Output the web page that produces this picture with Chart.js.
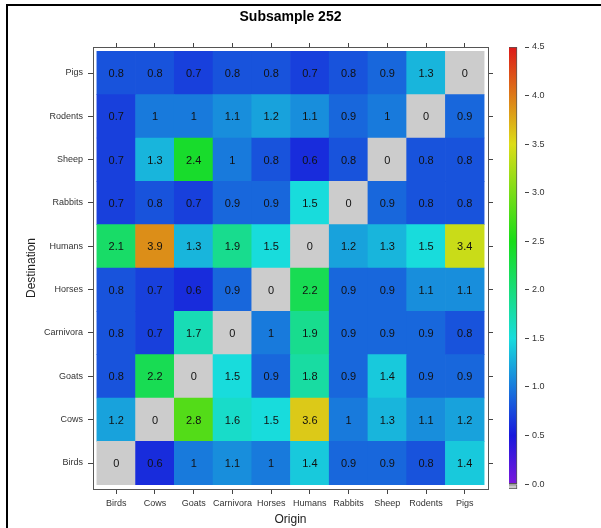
<!DOCTYPE html>
<html>
<head>
<meta charset="utf-8">
<script src="https://cdn.jsdelivr.net/npm/chart.js@4"></script>
<style>
  html, body { margin: 0; padding: 0; background: #fff; }
  #wrap { position: relative; width: 601px; height: 528px; overflow: hidden; }
  #frame { position: absolute; left: 6px; top: 4px; width: 600px; height: 530px;
           border-left: 2px solid #000; border-top: 2px solid #000; }
  #heat { position: absolute; left: 0; top: 0; }
  #scale { position: absolute; left: 500px; top: 0; }
</style>
</head>
<body>
<div id="wrap">
  <div id="frame"></div>
  <canvas id="heat" width="601" height="528"></canvas>
  <canvas id="scale" width="101" height="528"></canvas>
</div>
<script>
/* ---- dados: origem (colunas) x destino (linhas, de baixo p/ cima) ---- */
const origins = ['Birds', 'Cows', 'Goats', 'Carnivora', 'Horses', 'Humans', 'Rabbits', 'Sheep', 'Rodents', 'Pigs'];
const destinations = ['Birds', 'Cows', 'Goats', 'Carnivora', 'Horses', 'Humans', 'Rabbits', 'Sheep', 'Rodents', 'Pigs'];

const toBirds     = [0,   0.6, 1,   1.1, 1,   1.4, 0.9, 0.9, 0.8, 1.4];
const toCows      = [1.2, 0,   2.8, 1.6, 1.5, 3.6, 1,   1.3, 1.1, 1.2];
const toGoats     = [0.8, 2.2, 0,   1.5, 0.9, 1.8, 0.9, 1.4, 0.9, 0.9];
const toCarnivora = [0.8, 0.7, 1.7, 0,   1,   1.9, 0.9, 0.9, 0.9, 0.8];
const toHorses    = [0.8, 0.7, 0.6, 0.9, 0,   2.2, 0.9, 0.9, 1.1, 1.1];
const toHumans    = [2.1, 3.9, 1.3, 1.9, 1.5, 0,   1.2, 1.3, 1.5, 3.4];
const toRabbits   = [0.7, 0.8, 0.7, 0.9, 0.9, 1.5, 0,   0.9, 0.8, 0.8];
const toSheep     = [0.7, 1.3, 2.4, 1,   0.8, 0.6, 0.8, 0,   0.8, 0.8];
const toRodents   = [0.7, 1,   1,   1.1, 1.2, 1.1, 0.9, 1,   0,   0.9];
const toPigs      = [0.8, 0.8, 0.7, 0.8, 0.8, 0.7, 0.8, 0.9, 1.3, 0];

const rows = [toBirds, toCows, toGoats, toCarnivora, toHorses, toHumans, toRabbits, toSheep, toRodents, toPigs];

const scaleTicks = [0, 0.5, 1, 1.5, 2, 2.5, 3, 3.5, 4, 4.5];
const scaleMax = 4.5;

/* ---- cores ---- */
function rampColor(v) {
  return 'hsl(' + (270 - 60 * v) + ', 80%, 48%)';
}
function heatColor(v) {
  return v === 0 ? '#cccccc' : rampColor(v);
}

const FONT = "'Liberation Sans', Arial, sans-serif";
const tickFont = { family: FONT, size: 9 };

function centerTicks(scale) {
  scale.ticks = origins.map((_, i) => ({ value: i + 0.5 }));
}

// texto dentro das células
const cellLabels = {
  id: 'cellLabels',
  afterDatasetsDraw(chart) {
    const ctx = chart.ctx;
    ctx.save();
    ctx.font = '11px ' + FONT;
    ctx.fillStyle = '#111';
    ctx.textAlign = 'center';
    ctx.textBaseline = 'middle';
    chart.data.datasets.forEach((ds, di) => {
      chart.getDatasetMeta(di).data.forEach((el, i) => {
        const p = el.getProps(['x', 'y', 'base'], true);
        ctx.fillText(String(ds.data[i].v), p.x, (p.y + p.base) / 2 + 1);
      });
    });
    ctx.restore();
  }
};

// títulos
const titles = {
  id: 'titles',
  afterDraw(chart) {
    const ctx = chart.ctx;
    const a = chart.chartArea;
    const cx = (a.left + a.right) / 2;
    ctx.save();
    ctx.fillStyle = '#000';
    ctx.textAlign = 'center';
    ctx.textBaseline = 'middle';
    ctx.font = 'bold 14px ' + FONT;
    ctx.fillText('Subsample 252', cx, 17);
    ctx.fillStyle = '#222';
    ctx.font = '12px ' + FONT;
    ctx.fillText('Origin', cx, 520);
    ctx.translate(32, (a.top + a.bottom) / 2);
    ctx.rotate(-Math.PI / 2);
    ctx.fillText('Destination', 0, 0);
    ctx.restore();
  }
};

const datasets = rows.map((vals, r) => ({
  label: destinations[r],
  data: vals.map((v, c) => ({ x: c + 0.5, y: [r, r + 1], v: v })),
  backgroundColor: vals.map(heatColor),
  borderWidth: 0,
  grouped: false,
  barPercentage: 1,
  categoryPercentage: 1
}));

const gridOpts = { drawOnChartArea: false, drawTicks: true, tickLength: 5, color: '#444', offset: false };
const borderOpts = { display: true, color: '#555', width: 1 };

new Chart(document.getElementById('heat'), {
  type: 'bar',
  data: { datasets: datasets },
  options: {
    responsive: false,
    animation: false,
    layout: { padding: { left: 0, right: 108, top: 43, bottom: 0 } },
    plugins: { legend: { display: false }, tooltip: { enabled: false } },
    scales: {
      x: {
        type: 'linear', position: 'bottom', min: -0.1, max: 10.1, offset: false,
        afterBuildTicks: centerTicks,
        afterFit: s => { s.height = 39; },
        grid: gridOpts, border: borderOpts,
        ticks: { font: tickFont, color: '#333', padding: 4, maxRotation: 0, autoSkip: false,
                 callback: v => origins[Math.floor(v)] }
      },
      x2: {
        type: 'linear', position: 'top', min: -0.1, max: 10.1, offset: false,
        afterBuildTicks: centerTicks,
        afterFit: s => { s.height = 4; },
        grid: Object.assign({}, gridOpts, { tickLength: 4 }), border: borderOpts,
        ticks: { display: false }
      },
      y: {
        type: 'linear', position: 'left', min: -0.1, max: 10.1,
        afterBuildTicks: centerTicks,
        afterFit: s => { s.width = 93; },
        grid: gridOpts, border: borderOpts,
        ticks: { font: tickFont, color: '#333', padding: 5, autoSkip: false,
                 callback: v => destinations[Math.floor(v)] }
      },
      y2: {
        type: 'linear', position: 'right', min: -0.1, max: 10.1,
        afterBuildTicks: centerTicks,
        afterFit: s => { s.width = 5; },
        grid: gridOpts, border: borderOpts,
        ticks: { display: false }
      }
    }
  },
  plugins: [cellLabels, titles]
});

/* ---- barra de cores ---- */
new Chart(document.getElementById('scale'), {
  type: 'bar',
  data: {
    labels: [''],
    datasets: [
      { data: [[-0.05, 0]], backgroundColor: '#c8c8c8' },
      {
        data: [[0, scaleMax]],
        backgroundColor: ctx => {
          const chart = ctx.chart;
          if (!chart.chartArea) return '#888';
          const y = chart.scales.y;
          const g = chart.ctx.createLinearGradient(0, y.getPixelForValue(0), 0, y.getPixelForValue(scaleMax));
          for (let v = 0; v <= scaleMax + 1e-9; v += 0.25) {
            g.addColorStop(v / scaleMax, rampColor(v));
          }
          return g;
        }
      }
    ].map(d => Object.assign(d, {
      borderWidth: 1, borderColor: '#555', borderSkipped: false,
      grouped: false, barPercentage: 1, categoryPercentage: 1
    }))
  },
  options: {
    responsive: false,
    animation: false,
    layout: { padding: { left: 9, right: 0, top: 47, bottom: 39 } },
    plugins: { legend: { display: false }, tooltip: { enabled: false } },
    scales: {
      x: { display: false, offset: false },
      y: {
        position: 'right', min: -0.05, max: scaleMax,
        afterBuildTicks: s => { s.ticks = scaleTicks.map(v => ({ value: v })); },
        afterFit: s => { s.width = 76; },
        grid: { drawOnChartArea: false, drawTicks: true, tickLength: 4, color: '#444' },
        border: { display: false },
        ticks: { font: tickFont, color: '#333', padding: 3, callback: v => v.toFixed(1) }
      }
    }
  }
});
</script>
</body>
</html>
